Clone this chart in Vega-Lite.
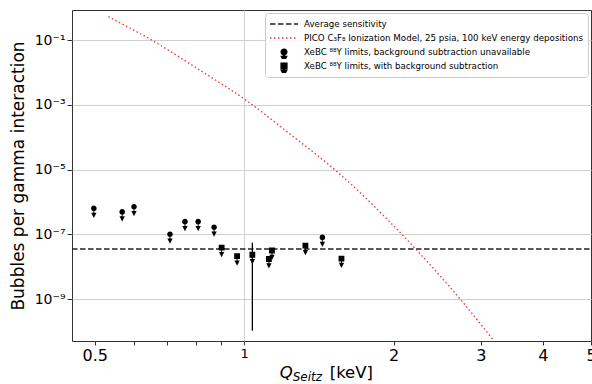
{
  "$schema": "https://vega.github.io/schema/vega-lite/v6.json",
  "width": 519,
  "height": 331,
  "autosize": "none",
  "padding": {"left": 72, "top": 10, "right": 1, "bottom": 43},
  "background": "white",
  "config": {
    "font": "DejaVu Sans",
    "view": {"stroke": "#333333", "strokeWidth": 1},
    "axis": {"labelFont": "DejaVu Sans", "titleFont": "DejaVu Sans", "labelColor": "black", "titleColor": "black", "tickColor": "#333333", "domain": false, "gridColor": "#d0d0d0", "gridWidth": 1},
    "legend": {
      "orient": "top-right", "offset": 3, "padding": 4,
      "strokeColor": "#cccccc", "fillColor": "rgba(255,255,255,0.85)", "cornerRadius": 3,
      "labelFont": "DejaVu Sans", "labelFontSize": 8.7, "labelColor": "black", "labelLimit": 400,
      "symbolSize": 784, "clipHeight": 14, "rowPadding": 0, "labelOffset": 5, "symbolStrokeWidth": 1.4, "symbolFillColor": "black"
    }
  },
  "datasets": {
    "pts": [
      {"series": "XeBC ⁸⁸Y limits, background subtraction unavailable", "x": 0.498, "y": 6.3e-7},
      {"series": "XeBC ⁸⁸Y limits, background subtraction unavailable", "x": 0.568, "y": 4.9e-7},
      {"series": "XeBC ⁸⁸Y limits, background subtraction unavailable", "x": 0.600, "y": 7.1e-7},
      {"series": "XeBC ⁸⁸Y limits, background subtraction unavailable", "x": 0.709, "y": 1.0e-7},
      {"series": "XeBC ⁸⁸Y limits, background subtraction unavailable", "x": 0.760, "y": 2.45e-7},
      {"series": "XeBC ⁸⁸Y limits, background subtraction unavailable", "x": 0.808, "y": 2.45e-7},
      {"series": "XeBC ⁸⁸Y limits, background subtraction unavailable", "x": 0.870, "y": 1.65e-7},
      {"series": "XeBC ⁸⁸Y limits, background subtraction unavailable", "x": 1.438, "y": 8.0e-8},
      {"series": "XeBC ⁸⁸Y limits, with background subtraction", "x": 0.901, "y": 3.85e-8},
      {"series": "XeBC ⁸⁸Y limits, with background subtraction", "x": 0.968, "y": 2.1e-8},
      {"series": "XeBC ⁸⁸Y limits, with background subtraction", "x": 1.039, "y": 2.33e-8, "lo": 1.05e-10, "hi": 5.5e-8},
      {"series": "XeBC ⁸⁸Y limits, with background subtraction", "x": 1.122, "y": 1.72e-8},
      {"series": "XeBC ⁸⁸Y limits, with background subtraction", "x": 1.138, "y": 3.15e-8},
      {"series": "XeBC ⁸⁸Y limits, with background subtraction", "x": 1.329, "y": 4.45e-8},
      {"series": "XeBC ⁸⁸Y limits, with background subtraction", "x": 1.571, "y": 1.78e-8}
    ],
    "lines": [
      {"series": "Average sensitivity", "x": 0.45, "y": 3.5e-8},
      {"series": "Average sensitivity", "x": 5, "y": 3.5e-8},
      {"series": "PICO C₃F₈ Ionization Model, 25 psia, 100 keV energy depositions", "x": 0.5325, "y": 0.525},
      {"series": "PICO C₃F₈ Ionization Model, 25 psia, 100 keV energy depositions", "x": 0.646, "y": 0.107},
      {"series": "PICO C₃F₈ Ionization Model, 25 psia, 100 keV energy depositions", "x": 0.8145, "y": 0.0117},
      {"series": "PICO C₃F₈ Ionization Model, 25 psia, 100 keV energy depositions", "x": 1.019, "y": 0.00124},
      {"series": "PICO C₃F₈ Ionization Model, 25 psia, 100 keV energy depositions", "x": 1.236, "y": 0.000126},
      {"series": "PICO C₃F₈ Ionization Model, 25 psia, 100 keV energy depositions", "x": 1.535, "y": 8.9e-6},
      {"series": "PICO C₃F₈ Ionization Model, 25 psia, 100 keV energy depositions", "x": 1.949, "y": 2.75e-7},
      {"series": "PICO C₃F₈ Ionization Model, 25 psia, 100 keV energy depositions", "x": 2.223, "y": 3.35e-8},
      {"series": "PICO C₃F₈ Ionization Model, 25 psia, 100 keV energy depositions", "x": 2.737, "y": 9.2e-10},
      {"series": "PICO C₃F₈ Ionization Model, 25 psia, 100 keV energy depositions", "x": 3.17, "y": 5.7e-11}
    ]
  },
  "layer": [
    {
      "encoding": {
        "x": {"field": "x", "type": "quantitative", "scale": {"type": "log", "domain": [0.45, 5], "nice": false},
          "axis": {"values": [0.5, 0.6, 0.7, 0.8, 0.9, 1, 2, 3, 4, 5], "labelExpr": "datum.value == 0.5 ? '0.5' : (datum.value >= 1 ? format(datum.value, 'd') : '')",
            "labelFontSize": {"condition": {"test": "datum.value == 1", "value": 13}, "value": 16},
            "gridOpacity": {"condition": {"test": "datum.value == 1", "value": 1}, "value": 0},
            "tickSize": 4,
            "grid": true, "labelPadding": 2, "labelFlush": false, "labelOverlap": false, "title": null}},
        "y": {"field": "y", "type": "quantitative", "scale": {"type": "log", "domain": [5.05e-11, 0.845], "nice": false},
          "axis": {"values": [1e-9, 1e-7, 1e-5, 1e-3, 1e-1],
            "labelExpr": "'10⁻' + replace(replace(replace(replace(replace(format(-log(datum.value)/LN10, '.0f'), '1', '¹'), '3', '³'), '5', '⁵'), '7', '⁷'), '9', '⁹')",
            "labelFontSize": 14, "tickSize": 5, "labelPadding": 2, "title": "Bubbles per gamma interaction", "titleFontSize": 17, "titleFontWeight": "normal", "titlePadding": 7, "grid": true}},
        "color": {"field": "series", "type": "nominal",
          "scale": {"domain": ["Average sensitivity", "PICO C₃F₈ Ionization Model, 25 psia, 100 keV energy depositions", "XeBC ⁸⁸Y limits, background subtraction unavailable", "XeBC ⁸⁸Y limits, with background subtraction"], "range": ["#222222", "#f03a3a", "black", "black"]},
          "legend": {"title": null}}
      },
      "layer": [
        {
          "data": {"name": "lines"},
          "mark": {"type": "line", "strokeWidth": 1.4, "clip": true, "interpolate": "monotone"},
          "encoding": {
            "strokeDash": {"field": "series", "type": "nominal",
              "scale": {"domain": ["Average sensitivity", "PICO C₃F₈ Ionization Model, 25 psia, 100 keV energy depositions", "XeBC ⁸⁸Y limits, background subtraction unavailable", "XeBC ⁸⁸Y limits, with background subtraction"], "range": [[5.5, 2.5], [1.5, 2.5], [1, 0], [1, 0]]},
              "legend": {"title": null}}
          }
        },
        {
          "data": {"name": "pts"},
          "transform": [{"filter": "isValid(datum.lo)"}],
          "mark": {"type": "rule", "color": "black", "strokeWidth": 1.3},
          "encoding": {
            "y": {"field": "lo", "type": "quantitative"},
            "y2": {"field": "hi"},
            "color": {"value": "black"}
          }
        },
        {
          "data": {"name": "pts"},
          "mark": {"type": "point", "filled": true, "opacity": 1, "size": 784},
          "encoding": {
            "shape": {"field": "series", "type": "nominal",
              "scale": {"domain": ["Average sensitivity", "PICO C₃F₈ Ionization Model, 25 psia, 100 keV energy depositions", "XeBC ⁸⁸Y limits, background subtraction unavailable", "XeBC ⁸⁸Y limits, with background subtraction"],
                "range": ["stroke", "stroke", "M0.2,0A0.2,0.2,0,1,1,-0.2,0A0.2,0.2,0,1,1,0.2,0Z M-0.035,0.15L0.035,0.15L0.035,0.33L-0.035,0.33Z M-0.19,0.31L0.19,0.31L0,0.68Z", "M-0.207,-0.207L0.207,-0.207L0.207,0.207L-0.207,0.207Z M-0.035,0.15L0.035,0.15L0.035,0.33L-0.035,0.33Z M-0.19,0.31L0.19,0.31L0,0.68Z"]},
              "legend": {"title": null}}
          }
        }
      ]
    },
    {
      "data": {"values": [{"t": "Q"}]},
      "mark": {"type": "text", "font": "DejaVu Sans", "fontSize": 16.5, "fontStyle": "italic", "align": "right", "baseline": "alphabetic", "dy": 37, "color": "black"},
      "encoding": {"text": {"field": "t"}, "x": {"datum": 1.253}, "y": {"datum": 5.05e-11}}
    },
    {
      "data": {"values": [{"t": "Seitz"}]},
      "mark": {"type": "text", "font": "DejaVu Sans", "fontSize": 12, "fontStyle": "italic", "align": "left", "baseline": "alphabetic", "dy": 40, "color": "black"},
      "encoding": {"text": {"field": "t"}, "x": {"datum": 1.253}, "y": {"datum": 5.05e-11}}
    },
    {
      "data": {"values": [{"t": "[keV]"}]},
      "mark": {"type": "text", "font": "DejaVu Sans", "fontSize": 16.5, "align": "left", "baseline": "alphabetic", "dy": 37, "dx": 37, "color": "black"},
      "encoding": {"text": {"field": "t"}, "x": {"datum": 1.253}, "y": {"datum": 5.05e-11}}
    }
  ]
}
